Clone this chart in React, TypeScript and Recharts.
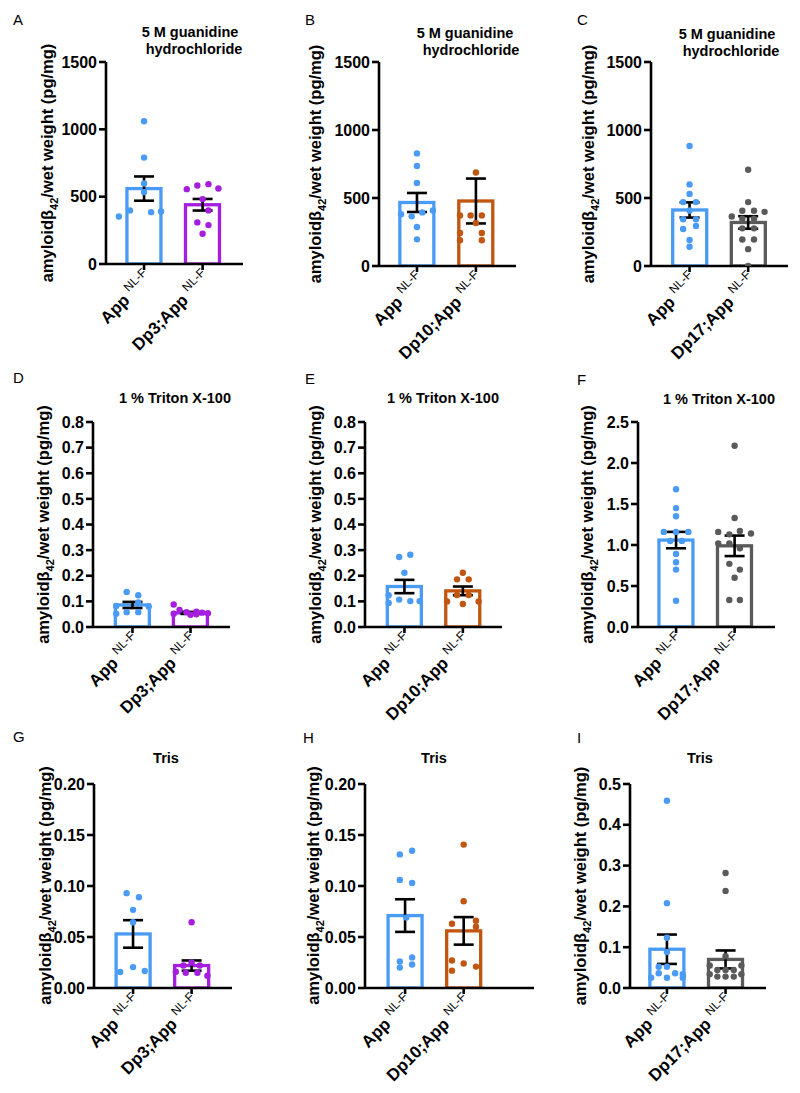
import React from 'react';
import { ComposedChart, Bar, Scatter, XAxis, YAxis, ErrorBar } from 'recharts';

const FONT = '"Liberation Sans", Arial, Helvetica, sans-serif';
const BLUE = '#4a9bf5';
const PURPLE = '#a51ee0';
const ORANGE = '#c0560f';
const GREY = '#5a5a5a';

// tick sets
const TICKS_1500 = [0, 500, 1000, 1500];
const TICKS_08 = [0, 0.1, 0.2, 0.3, 0.4, 0.5, 0.6, 0.7, 0.8];
const TICKS_25 = [0, 0.5, 1.0, 1.5, 2.0, 2.5];
const TICKS_020 = [0, 0.05, 0.1, 0.15, 0.2];
const TICKS_05 = [0, 0.1, 0.2, 0.3, 0.4, 0.5];

const NAMES_DP3 = ['App', 'Dp3;App'];
const NAMES_DP10 = ['App', 'Dp10;App'];
const NAMES_DP17 = ['App', 'Dp17;App'];

const TITLE_GUA = ['5 M guanidine', 'hydrochloride'];
const TITLE_TRITON = ['1 % Triton X-100'];
const TITLE_TRIS = ['Tris'];

// A - guanidine, Dp3
const A_MEAN = [560, 440];
const A_SEM = [90, 43];
const A_APP = [1060, 790, 598, 534, 398, 385, 390, 353];
const A_APP_X = [0, 0, 0, 0, -0.24, 0.12, 0.29, -0.43];
const A_DP = [556, 583, 593, 561, 482, 398, 309, 289, 225];
const A_DP_X = [-0.27, -0.09, 0.1, 0.27, 0, 0.1, -0.09, 0.1, 0];

// B - guanidine, Dp10
const B_MEAN = [467, 478];
const B_SEM = [70, 165];
const B_APP = [828, 735, 610, 380, 365, 394, 409, 287, 196];
const B_APP_X = [0, 0, 0, -0.27, -0.09, 0.09, 0.27, 0, 0];
const B_DP = [688, 372, 372, 372, 316, 243, 243, 189, 189];
const B_DP_X = [0, -0.27, -0.09, 0.1, 0, -0.27, 0.1, -0.27, 0.1];

// C - guanidine, Dp17
const C_MEAN = [412, 320];
const C_SEM = [56, 46];
const C_APP = [882, 600, 530, 470, 470, 408, 344, 344, 295, 272, 191, 141];
const C_APP_X = [0, 0, 0, -0.11, 0.11, 0, -0.11, 0.11, 0.11, -0.11, 0, 0];
const C_DP = [708, 470, 406, 406, 398, 364, 347, 347, 277, 277, 195, 195, 124, 0];
const C_DP_X = [0, 0, -0.1, 0.1, 0.28, -0.28, -0.1, 0.1, -0.1, 0.1, -0.1, 0.1, 0, 0];

// D - Triton, Dp3
const D_MEAN = [0.086, 0.055];
const D_SEM = [0.012, 0.004];
const D_APP = [0.137, 0.124, 0.096, 0.082, 0.08, 0.058, 0.058, 0.052];
const D_APP_X = [-0.1, 0.1, 0.1, -0.28, 0.28, -0.1, 0.1, -0.28];
const D_DP = [0.088, 0.067, 0.058, 0.06, 0.056, 0.054, 0.048, 0.05, 0.052];
const D_DP_X = [-0.29, -0.19, -0.07, 0.1, 0.2, 0.3, 0, 0.1, -0.29];

// E - Triton, Dp10
const E_MEAN = [0.158, 0.141];
const E_SEM = [0.026, 0.017];
const E_APP = [0.273, 0.282, 0.212, 0.124, 0.094, 0.107, 0.101, 0.101];
const E_APP_X = [-0.09, 0.1, 0, -0.27, -0.27, -0.09, 0.1, 0.26];
const E_DP = [0.212, 0.186, 0.186, 0.125, 0.125, 0.1, 0.1, 0.09];
const E_DP_X = [0, -0.1, 0.1, -0.1, 0.1, -0.27, 0.27, 0];

// F - Triton, Dp17
const F_MEAN = [1.06, 0.99];
const F_SEM = [0.1, 0.125];
const F_APP = [1.68, 1.45, 1.35, 1.16, 1.16, 1.16, 1.05, 1.05, 0.89, 0.79, 0.7, 0.32];
const F_APP_X = [0, 0, 0, -0.21, 0, 0.21, -0.1, 0.1, 0, 0, 0, 0];
const F_DP = [2.21, 1.33, 1.16, 1.13, 1.17, 1.14, 1.02, 1.02, 0.96, 0.77, 0.7, 0.6, 0.33, 0.33];
const F_DP_X = [0, 0, -0.28, -0.09, 0.09, 0.28, -0.28, -0.09, 0.09, -0.09, 0.09, 0, -0.09, 0.09];

// G - Tris, Dp3
const G_MEAN = [0.053, 0.022];
const G_SEM = [0.0135, 0.005];
const G_APP = [0.093, 0.089, 0.0766, 0.0645, 0.0157, 0.0205, 0.0166];
const G_APP_X = [-0.11, 0.1, 0, 0, -0.22, 0, 0.2];
const G_DP = [0.0645, 0.025, 0.022, 0.022, 0.016, 0.015, 0.015, 0.012];
const G_DP_X = [0, 0, -0.14, 0.14, -0.27, -0.1, 0.1, 0.27];

// H - Tris, Dp10
const H_MEAN = [0.071, 0.056];
const H_SEM = [0.016, 0.0135];
const H_APP = [0.131, 0.1346, 0.106, 0.103, 0.069, 0.026, 0.03, 0.02, 0.023];
const H_APP_X = [-0.09, 0.12, -0.09, 0.12, 0.02, -0.09, 0.12, -0.09, 0.12];
const H_DP = [0.1406, 0.085, 0.063, 0.066, 0.06, 0.027, 0.024, 0.021, 0.017];
const H_DP_X = [0, 0, -0.2, 0.21, 0.21, -0.2, 0, 0.21, -0.2];

// I - Tris, Dp17
const I_MEAN = [0.095, 0.07];
const I_SEM = [0.036, 0.022];
const I_APP = [0.459, 0.208, 0.123, 0.088, 0.052, 0.052, 0.036, 0.036, 0.034, 0.025, 0.025, 0.025];
const I_APP_X = [0, 0, 0, 0, -0.14, 0, -0.14, 0.14, 0.27, -0.27, 0, 0.27];
const I_DP = [0.282, 0.238, 0.078, 0.055, 0.055, 0.044, 0.044, 0.044, 0.034, 0.034, 0.028, 0.028, 0.028];
const I_DP_X = [0, 0, 0, -0.27, 0.27, -0.14, 0, 0.14, -0.27, 0.27, -0.14, 0, 0.14];

type Panel = {
  letter: string;
  letterPos: [number, number];
  title: string[];
  titlePos: [number, number][];
  axisX: number;
  plotTop: number;
  plotW: number;
  plotH: number;
  xDomain: [number, number];
  yTicks: number[];
  digits: number;
  labelOffset: number;
  names: string[];
  colors: string[];
  mean: number[];
  sem: number[];
  pts: number[][];
  dx: number[][];
};

const panels: Panel[] = [
  {
    letter: 'A', letterPos: [13, 25], title: TITLE_GUA, titlePos: [[190, 37], [194, 54]],
    axisX: 106, plotTop: 62, plotW: 137, plotH: 202, xDomain: [0.35, 2.69],
    yTicks: TICKS_1500, digits: 0, labelOffset: 59, names: NAMES_DP3, colors: [BLUE, PURPLE],
    mean: A_MEAN, sem: A_SEM, pts: [A_APP, A_DP], dx: [A_APP_X, A_DP_X],
  },
  {
    letter: 'B', letterPos: [305, 25], title: TITLE_GUA, titlePos: [[465, 38], [471, 55]],
    axisX: 379, plotTop: 62, plotW: 137, plotH: 204, xDomain: [0.356, 2.68],
    yTicks: TICKS_1500, digits: 0, labelOffset: 64, names: NAMES_DP10, colors: [BLUE, ORANGE],
    mean: B_MEAN, sem: B_SEM, pts: [B_APP, B_DP], dx: [B_APP_X, B_DP_X],
  },
  {
    letter: 'C', letterPos: [577, 25], title: TITLE_GUA, titlePos: [[727, 39], [731, 56]],
    axisX: 651, plotTop: 62, plotW: 137, plotH: 204, xDomain: [0.342, 2.68],
    yTicks: TICKS_1500, digits: 0, labelOffset: 63, names: NAMES_DP17, colors: [BLUE, GREY],
    mean: C_MEAN, sem: C_SEM, pts: [C_APP, C_DP], dx: [C_APP_X, C_DP_X],
  },
  {
    letter: 'D', letterPos: [13, 383], title: TITLE_TRITON, titlePos: [[175, 403]],
    axisX: 93, plotTop: 422, plotW: 137, plotH: 205, xDomain: [0.32, 2.68],
    yTicks: TICKS_08, digits: 1, labelOffset: 50, names: NAMES_DP3, colors: [BLUE, PURPLE],
    mean: D_MEAN, sem: D_SEM, pts: [D_APP, D_DP], dx: [D_APP_X, D_DP_X],
  },
  {
    letter: 'E', letterPos: [305, 384], title: TITLE_TRITON, titlePos: [[443, 403]],
    axisX: 365, plotTop: 422, plotW: 137, plotH: 205, xDomain: [0.325, 2.67],
    yTicks: TICKS_08, digits: 1, labelOffset: 50, names: NAMES_DP10, colors: [BLUE, ORANGE],
    mean: E_MEAN, sem: E_SEM, pts: [E_APP, E_DP], dx: [E_APP_X, E_DP_X],
  },
  {
    letter: 'F', letterPos: [577, 385], title: TITLE_TRITON, titlePos: [[719, 404]],
    axisX: 638, plotTop: 422, plotW: 137, plotH: 205, xDomain: [0.35, 2.69],
    yTicks: TICKS_25, digits: 1, labelOffset: 51, names: NAMES_DP17, colors: [BLUE, GREY],
    mean: F_MEAN, sem: F_SEM, pts: [F_APP, F_DP], dx: [F_APP_X, F_DP_X],
  },
  {
    letter: 'G', letterPos: [13, 742], title: TITLE_TRIS, titlePos: [[166, 763]],
    axisX: 94, plotTop: 783.5, plotW: 138, plotH: 204, xDomain: [0.333, 2.69],
    yTicks: TICKS_020, digits: 2, labelOffset: 49, names: NAMES_DP3, colors: [BLUE, PURPLE],
    mean: G_MEAN, sem: G_SEM, pts: [G_APP, G_DP], dx: [G_APP_X, G_DP_X],
  },
  {
    letter: 'H', letterPos: [303, 743], title: TITLE_TRIS, titlePos: [[434, 763]],
    axisX: 365, plotTop: 783.5, plotW: 169, plotH: 204, xDomain: [0.316, 3.2],
    yTicks: TICKS_020, digits: 2, labelOffset: 52, names: NAMES_DP10, colors: [BLUE, ORANGE],
    mean: H_MEAN, sem: H_SEM, pts: [H_APP, H_DP], dx: [H_APP_X, H_DP_X],
  },
  {
    letter: 'I', letterPos: [577, 743], title: TITLE_TRIS, titlePos: [[700, 763]],
    axisX: 630, plotTop: 784, plotW: 136, plotH: 204, xDomain: [0.37, 2.69],
    yTicks: TICKS_05, digits: 1, labelOffset: 50, names: NAMES_DP17, colors: [BLUE, GREY],
    mean: I_MEAN, sem: I_SEM, pts: [I_APP, I_DP], dx: [I_APP_X, I_DP_X],
  },
];

const M_TOP = 70;
const Y_W = 100;
const X_H = 115;
const M_RIGHT = 10;
const BAR_W = 34;
const AXIS = { stroke: '#000', strokeWidth: 2.6 };

const XTick = (props: any) => {
  const { x, y, payload, names } = props;
  const name = names[payload.value - 1];
  if (!name) return null;
  return (
    <g transform={`translate(${x + 9},${y + 7})`}>
      <text transform="rotate(-45)" textAnchor="end" fontFamily={FONT} fontSize={17} fontWeight="bold" fill="#000">
        {name}
        <tspan fontSize={12} fontWeight="normal" dx={5} dy={-8}>NL-F</tspan>
      </text>
    </g>
  );
};

const PanelChart = ({ p }: { p: Panel }) => {
  const barData = p.mean.map((m, i) => ({ x: i + 1, mean: m, sem: p.sem[i] }));
  const pointSets = p.pts.map((vals, g) => vals.map((v, k) => ({ x: g + 1 + p.dx[g][k], y: v })));
  const yMax = p.yTicks[p.yTicks.length - 1];
  return (
    <div style={{ position: 'absolute', left: p.axisX - Y_W, top: p.plotTop - M_TOP }}>
      <ComposedChart
        width={Y_W + p.plotW + M_RIGHT}
        height={M_TOP + p.plotH + X_H}
        data={barData}
        margin={{ top: M_TOP, right: M_RIGHT, bottom: 0, left: 0 }}
      >
        <XAxis
          type="number"
          dataKey="x"
          domain={p.xDomain}
          ticks={[1, 2]}
          allowDataOverflow
          interval={0}
          height={X_H}
          tickSize={6}
          tickMargin={2}
          axisLine={AXIS}
          tickLine={AXIS}
          tick={(t: any) => <XTick {...t} names={p.names} />}
        />
        <YAxis
          type="number"
          domain={[0, yMax]}
          ticks={p.yTicks}
          allowDataOverflow
          interval={0}
          width={Y_W}
          tickSize={7}
          tickMargin={2}
          axisLine={AXIS}
          tickLine={AXIS}
          tickFormatter={(v: number) => v.toFixed(p.digits)}
          tick={{ fontSize: 16, fontWeight: 'bold', fill: '#000', fontFamily: FONT }}
        />
        <Bar
          dataKey="mean"
          isAnimationActive={false}
          shape={(b: any) => (
            <rect
              x={b.x + b.width / 2 - BAR_W / 2}
              y={b.y}
              width={BAR_W}
              height={b.height}
              fill="#fff"
              stroke={p.colors[b.index]}
              strokeWidth={3.3}
            />
          )}
        />
        {pointSets.map((d, g) => (
          <Scatter
            key={g}
            data={d}
            dataKey="y"
            isAnimationActive={false}
            shape={(s: any) => <circle cx={s.cx} cy={s.cy} r={3.2} fill={p.colors[g]} />}
          />
        ))}
        <Scatter data={barData} dataKey="mean" isAnimationActive={false} shape={() => <g />}>
          <ErrorBar dataKey="sem" direction="y" width={10} stroke="#000" strokeWidth={2.6} isAnimationActive={false} />
        </Scatter>
      </ComposedChart>
    </div>
  );
};

export default function App() {
  return (
    <div style={{ position: 'absolute', left: 0, top: 0, width: 800, height: 1093, background: '#fff', fontFamily: FONT }}>
      {panels.map((p) => (
        <PanelChart key={p.letter} p={p} />
      ))}
      <svg width={800} height={1093} style={{ position: 'absolute', left: 0, top: 0, pointerEvents: 'none' }}>
        {panels.map((p) => (
          <g key={p.letter} fontFamily={FONT} fill="#000">
            <text x={p.letterPos[0]} y={p.letterPos[1]} fontSize={15}>{p.letter}</text>
            {p.title.map((t, i) => (
              <text key={i} x={p.titlePos[i][0]} y={p.titlePos[i][1]} fontSize={14.5} fontWeight="bold" textAnchor="middle">
                {t}
              </text>
            ))}
            <text
              transform={`translate(${p.axisX - p.labelOffset},${p.plotTop + p.plotH / 2}) rotate(-90)`}
              textAnchor="middle"
              dy="0.35em"
              fontSize={16.5}
              fontWeight="bold"
            >
              amyloidβ<tspan fontSize={11} dy={5}>42</tspan>
              <tspan dy={-5}>/wet weight (pg/mg)</tspan>
            </text>
          </g>
        ))}
      </svg>
    </div>
  );
}
